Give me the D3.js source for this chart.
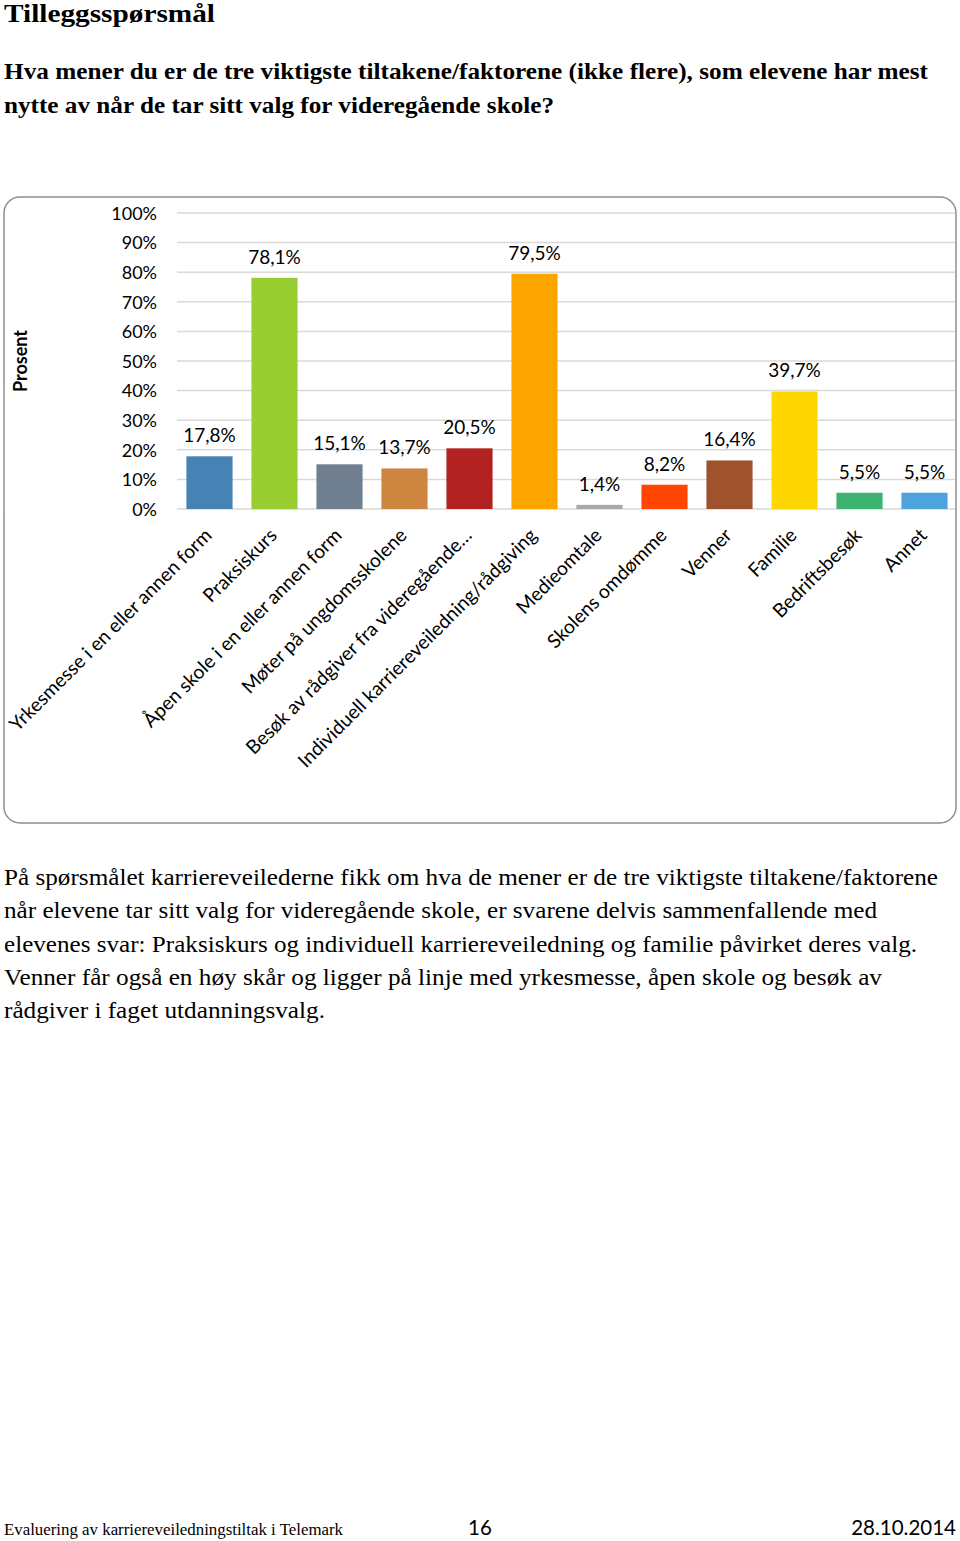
<!DOCTYPE html>
<html><head><meta charset="utf-8">
<script src="https://cdn.jsdelivr.net/npm/d3@7"></script>
<style>
body{margin:0;background:#fff;}
svg{display:block;}
</style></head>
<body>
<script>
const categories = ["Yrkesmesse i en eller annen form","Praksiskurs","Åpen skole i en eller annen form","Møter på ungdomsskolene","Besøk av rådgiver fra videregående…","Individuell karriereveiledning/rådgiving","Medieomtale","Skolens omdømme","Venner","Familie","Bedriftsbesøk","Annet"];
const values = [17.8,78.1,15.1,13.7,20.5,79.5,1.4,8.2,16.4,39.7,5.5,5.5];
const valueLabels = ["17,8%","78,1%","15,1%","13,7%","20,5%","79,5%","1,4%","8,2%","16,4%","39,7%","5,5%","5,5%"];
const colors = ["#4682B4","#9ACD32","#708090","#CD853F","#B22222","#FFA500","#A9A9A9","#FF4500","#A0522D","#FFD700","#3CB371","#4FA3DD"];
const yTicks = [0,10,20,30,40,50,60,70,80,90,100];
const yTitle = "Prosent";
const title = "Tilleggsspørsmål";
const questionLines = ["Hva mener du er de tre viktigste tiltakene/faktorene (ikke flere), som elevene har mest","nytte av når de tar sitt valg for videregående skole?"];
const paragraphLines = ["På spørsmålet karriereveilederne fikk om hva de mener er de tre viktigste tiltakene/faktorene","når elevene tar sitt valg for videregående skole, er svarene delvis sammenfallende med","elevenes svar: Praksiskurs og individuell karriereveiledning og familie påvirket deres valg.","Venner får også en høy skår og ligger på linje med yrkesmesse, åpen skole og besøk av","rådgiver i faget utdanningsvalg."];
const footerLeft = "Evaluering av karriereveiledningstiltak i Telemark";
const footerPage = "16";
const footerDate = "28.10.2014";

const W = 960, H = 1541;
const svg = d3.select("body").append("svg").attr("width", W).attr("height", H);
const serif = "'Liberation Serif','Times New Roman',Times,serif";
const sans = "Lato,'Open Sans',sans-serif";

svg.append("text").attr("x",4).attr("y",22).attr("font-family",serif).attr("font-weight","bold")
  .attr("font-size",26).attr("textLength",211).attr("lengthAdjust","spacingAndGlyphs").text(title);

const qLens = [924, 550];
questionLines.forEach((t,i)=>{
  svg.append("text").attr("x",4).attr("y",79+i*34).attr("font-family",serif).attr("font-weight","bold")
    .attr("font-size",22.5).attr("textLength",qLens[i]).attr("lengthAdjust","spacingAndGlyphs").text(t);
});

// chart frame
svg.append("rect").attr("x",4).attr("y",197).attr("width",952).attr("height",626)
  .attr("rx",16).attr("ry",16).attr("fill","#fff").attr("stroke","#8f8f8f").attr("stroke-width",1.5);

const x = d3.scaleBand().domain(categories).range([177,957]).paddingInner(0.29).paddingOuter(0.145);
const y = d3.scaleLinear().domain([0,100]).range([509,213]);

const g = svg.append("g");
// gridlines
g.selectAll("line.grid").data(yTicks).join("line").attr("class","grid")
  .attr("x1",177).attr("x2",955).attr("y1",d=>y(d)).attr("y2",d=>y(d))
  .attr("stroke","#d9d9d9").attr("stroke-width",1.5);

// y axis via d3.axisLeft
const yAxis = d3.axisLeft(y).tickValues(yTicks).tickFormat(d=>d+"%").tickSize(0).tickPadding(0);
const ya = svg.append("g").attr("transform","translate(157,0)").call(yAxis);
ya.select(".domain").remove();
ya.selectAll("text").attr("font-family",sans).attr("font-size",18).attr("fill","#000").attr("dy","0.35em");

svg.append("text").attr("transform","translate(27,361) rotate(-90)").attr("text-anchor","middle")
  .attr("font-family",sans).attr("font-weight","bold").attr("font-size",18).text(yTitle);

// bars
g.selectAll("rect.bar").data(values).join("rect").attr("class","bar")
  .attr("x",(d,i)=>x(categories[i])).attr("width",x.bandwidth())
  .attr("y",d=>y(d)).attr("height",d=>y(0)-y(d)).attr("fill",(d,i)=>colors[i]);

// value labels
g.selectAll("text.val").data(values).join("text").attr("class","val")
  .attr("x",(d,i)=>x(categories[i])+x.bandwidth()/2).attr("y",d=>y(d)-14)
  .attr("text-anchor","middle").attr("font-family",sans).attr("font-size",19).attr("fill","#000")
  .text((d,i)=>valueLabels[i]);

// x axis labels
g.selectAll("text.cat").data(categories).join("text").attr("class","cat")
  .attr("transform",d=>`translate(${x(d)+x.bandwidth()/2-6},${527}) rotate(-45)`)
  .attr("text-anchor","end").attr("font-family",sans).attr("font-size",19.3).attr("fill","#000")
  .attr("dy","0.7em").text(d=>d);

// paragraph
const pLens = [934, 873, 913, 878, 321];
paragraphLines.forEach((t,i)=>{
  svg.append("text").attr("x",4).attr("y",885+i*33.3).attr("font-family",serif)
    .attr("font-size",22.5).attr("textLength",pLens[i]).attr("lengthAdjust","spacingAndGlyphs").text(t);
});

// footer
svg.append("text").attr("x",4).attr("y",1535).attr("font-family",serif).attr("font-size",16)
  .attr("textLength",339).attr("lengthAdjust","spacingAndGlyphs").text(footerLeft);
svg.append("text").attr("x",480).attr("y",1535).attr("text-anchor","middle").attr("font-family",sans)
  .attr("font-size",20.5).text(footerPage);
svg.append("text").attr("x",956).attr("y",1535).attr("text-anchor","end").attr("font-family",sans)
  .attr("font-size",20.5).text(footerDate);
</script>
</body></html>
